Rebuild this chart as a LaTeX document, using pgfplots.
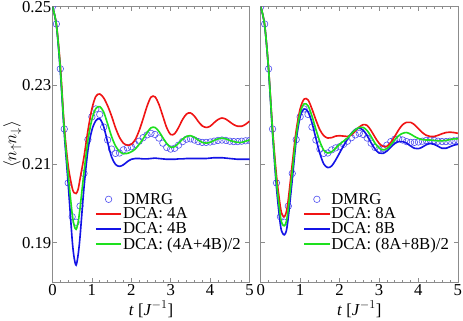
\documentclass[border=0pt]{standalone}
\usepackage{fontspec}
\setmainfont{Liberation Serif}
\usepackage{pgfplots}
\usepackage{pgfplotstable}
\pgfplotsset{compat=1.18}
\definecolor{cRed}{HTML}{F01414}
\definecolor{cBlue}{HTML}{1414E6}
\definecolor{cGreen}{HTML}{1EE01E}
\definecolor{cDmrg}{HTML}{5050F0}
\pgfplotsset{
  panel/.style={
    scale only axis, width=194bp, height=271bp,
    xmin=0, xmax=5, ymin=0.18, ymax=0.25,
    xtick={0,1,2,3,4,5}, minor x tick num=4,
    ytick={0.19,0.21,0.23,0.25},
    tick align=inside, major tick length=4bp, minor tick length=2bp,
    tick style={draw=black!45, line width=0.5bp},
    axis line style={draw=black!45, line width=0.6bp},
    font=\fontsize{16.5}{18}\selectfont,
    /pgf/number format/assume math mode=true,
    yticklabel style={/pgf/number format/fixed, /pgf/number format/fixed zerofill,
      /pgf/number format/precision=2},
    xticklabel style={inner sep=1bp, yshift=-1bp},
    xlabel={\textit{t} [\textit{J}$^{-1}$]},
    xlabel style={yshift=-1bp},
    clip marker paths=true,
    legend cell align=left,
    legend image code/.code={\draw[mark repeat=2,mark phase=2]
      plot coordinates {(0bp,0bp) (12.5bp,0bp) (25bp,0bp)};},
    legend style={draw=none, fill=none, at={(rel axis cs:0.2,0.335)},
      anchor=north west, row sep=0.2bp, font=\fontsize{16.5}{18}\selectfont,
      nodes={inner sep=1bp}},
  },
  dmrg/.style={only marks, mark=o, mark size=3.2bp, draw=cDmrg, mark options={line width=0.6bp}},
  cA/.style={cRed, line width=1.6bp, smooth, no marks},
  cB/.style={cBlue, line width=1.6bp, smooth, no marks},
  cAB/.style={cGreen, line width=1.6bp, smooth, no marks},
}
% DMRG reference data, shared by both panels
\pgfplotstableread{
t y
0.0 0.2500
0.1 0.2456
0.2 0.2342
0.3 0.2189
0.4 0.2052
0.5 0.1966
0.6 0.1952
0.7 0.1993
0.8 0.2076
0.9 0.2162
1.0 0.2220
1.1 0.2240
1.2 0.2226
1.3 0.2194
1.4 0.2161
1.5 0.2138
1.6 0.2127
1.7 0.2128
1.8 0.2136
1.9 0.2141
2.0 0.2144
2.1 0.2150
2.2 0.2158
2.3 0.2167
2.4 0.2174
2.5 0.2178
2.6 0.2175
2.7 0.2166
2.8 0.2153
2.9 0.2142
3.0 0.2138
3.1 0.2140
3.2 0.2148
3.3 0.2157
3.4 0.2163
3.5 0.2164
3.6 0.2161
3.7 0.2157
3.8 0.2155
3.9 0.2155
4.0 0.2156
4.1 0.2158
4.2 0.2160
4.3 0.2161
4.4 0.2160
4.5 0.2158
4.6 0.2157
4.7 0.2157
4.8 0.2158
4.9 0.2159
5.0 0.2160
}\dmrg
% DCA 4-site clusters: t  4A  4B  (4A+4B)/2
\pgfplotstableread{
t a b ab
0.0 0.2500 0.2500 0.2500
0.1 0.2455 0.2453 0.2454
0.2 0.2350 0.2335 0.2342
0.3 0.2195 0.2178 0.2187
0.4 0.2095 0.2048 0.2072
0.5 0.2040 0.1908 0.1974
0.55 0.2027 0.1862 0.1944
0.6 0.2025 0.1843 0.1934
0.65 0.2035 0.1868 0.1951
0.7 0.2062 0.1915 0.1988
0.8 0.2118 0.2040 0.2079
0.9 0.2185 0.2135 0.2160
1.0 0.2240 0.2186 0.2213
1.1 0.2272 0.2210 0.2241
1.2 0.2278 0.2215 0.2246
1.3 0.2268 0.2195 0.2232
1.4 0.2248 0.2155 0.2202
1.5 0.2222 0.2118 0.2170
1.6 0.2192 0.2099 0.2146
1.7 0.2168 0.2094 0.2132
1.8 0.2153 0.2098 0.2126
1.9 0.2148 0.2106 0.2127
2.0 0.2150 0.2112 0.2131
2.1 0.2162 0.2114 0.2138
2.2 0.2185 0.2114 0.2150
2.3 0.2215 0.2113 0.2164
2.4 0.2247 0.2113 0.2180
2.5 0.2270 0.2114 0.2192
2.6 0.2271 0.2115 0.2193
2.7 0.2252 0.2114 0.2183
2.8 0.2222 0.2113 0.2167
2.9 0.2192 0.2112 0.2152
3.0 0.2175 0.2112 0.2143
3.1 0.2177 0.2112 0.2144
3.2 0.2193 0.2113 0.2153
3.3 0.2213 0.2113 0.2163
3.4 0.2227 0.2114 0.2170
3.5 0.2230 0.2114 0.2172
3.6 0.2222 0.2114 0.2168
3.7 0.2208 0.2114 0.2161
3.8 0.2197 0.2114 0.2155
3.9 0.2193 0.2114 0.2153
4.0 0.2196 0.2115 0.2155
4.1 0.2205 0.2116 0.2160
4.2 0.2213 0.2116 0.2164
4.3 0.2217 0.2116 0.2166
4.4 0.2214 0.2115 0.2164
4.5 0.2207 0.2114 0.2160
4.6 0.2200 0.2113 0.2157
4.7 0.2196 0.2112 0.2155
4.8 0.2196 0.2112 0.2155
4.9 0.2201 0.2112 0.2158
5.0 0.2209 0.2112 0.2161
}\dcafour
% DCA 8-site clusters: t  8A  8B  (8A+8B)/2
\pgfplotstableread{
t a b ab
0.0 0.2500 0.2500 0.2500
0.1 0.2454 0.2452 0.2453
0.2 0.2342 0.2338 0.2340
0.3 0.2190 0.2178 0.2184
0.4 0.2070 0.2040 0.2055
0.5 0.1990 0.1945 0.1967
0.55 0.1970 0.1925 0.1947
0.6 0.1966 0.1920 0.1943
0.65 0.1978 0.1930 0.1954
0.7 0.2010 0.1965 0.1987
0.8 0.2100 0.2060 0.2080
0.9 0.2185 0.2160 0.2172
1.0 0.2240 0.2220 0.2230
1.1 0.2265 0.2240 0.2253
1.2 0.2263 0.2233 0.2248
1.3 0.2240 0.2205 0.2222
1.4 0.2212 0.2165 0.2188
1.5 0.2187 0.2127 0.2157
1.6 0.2172 0.2100 0.2135
1.7 0.2166 0.2091 0.2128
1.8 0.2167 0.2095 0.2131
1.9 0.2171 0.2110 0.2140
2.0 0.2172 0.2128 0.2150
2.1 0.2171 0.2146 0.2158
2.2 0.2170 0.2163 0.2166
2.3 0.2174 0.2178 0.2177
2.4 0.2184 0.2188 0.2187
2.5 0.2194 0.2191 0.2193
2.6 0.2200 0.2186 0.2193
2.7 0.2198 0.2172 0.2185
2.8 0.2185 0.2154 0.2170
2.9 0.2168 0.2138 0.2153
3.0 0.2153 0.2128 0.2141
3.1 0.2145 0.2127 0.2136
3.2 0.2145 0.2133 0.2139
3.3 0.2155 0.2143 0.2149
3.4 0.2170 0.2152 0.2161
3.5 0.2187 0.2157 0.2172
3.6 0.2200 0.2157 0.2178
3.7 0.2206 0.2153 0.2180
3.8 0.2206 0.2146 0.2176
3.9 0.2200 0.2140 0.2170
4.0 0.2190 0.2139 0.2165
4.1 0.2180 0.2143 0.2162
4.2 0.2173 0.2149 0.2161
4.3 0.2170 0.2152 0.2161
4.4 0.2170 0.2150 0.2160
4.5 0.2173 0.2145 0.2159
4.6 0.2177 0.2140 0.2159
4.7 0.2180 0.2140 0.2160
4.8 0.2181 0.2144 0.2162
4.9 0.2180 0.2148 0.2164
5.0 0.2178 0.2150 0.2164
}\dcaeight
\begin{document}
\begin{tikzpicture}
\begin{axis}[panel,
  ylabel={$\langle n_{\uparrow} n_{\downarrow}\rangle$},
  ylabel style={yshift=-4bp},
  yticklabel style={inner sep=1bp}]
\addplot[dmrg] table[x=t, y=y] {\dmrg};
\addplot[cA] table[x=t, y=a] {\dcafour};
\addplot[cB] table[x=t, y=b] {\dcafour};
\addplot[cAB] table[x=t, y=ab] {\dcafour};
\legend{DMRG, DCA: 4A, DCA: 4B, DCA: (4A+4B)/2}
\end{axis}
\begin{axis}[panel, at={(205bp,0)}, yticklabels={}]
\addplot[dmrg] table[x=t, y=y] {\dmrg};
\addplot[cA] table[x=t, y=a] {\dcaeight};
\addplot[cB] table[x=t, y=b] {\dcaeight};
\addplot[cAB] table[x=t, y=ab] {\dcaeight};
\legend{DMRG, DCA: 8A, DCA: 8B, DCA: (8A+8B)/2}
\end{axis}
\end{tikzpicture}
\end{document}
